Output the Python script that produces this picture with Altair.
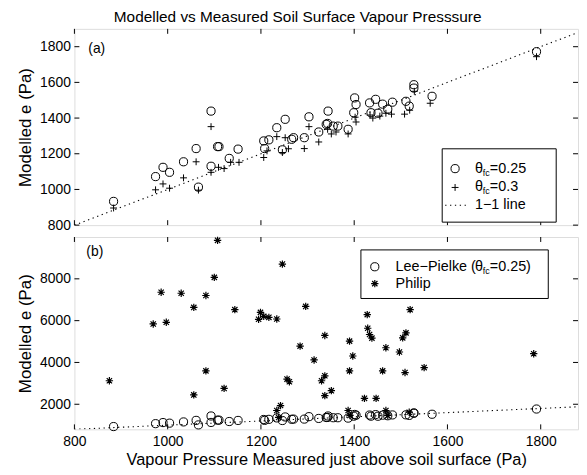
import altair as alt
import pandas as pd

# ---------------- data ----------------
# panel (a): theta_fc = 0.25  (also Lee-Pielke in panel (b))
x_c = [884, 974, 990, 1004, 1034, 1061, 1066, 1093, 1093, 1107, 1110, 1132, 1151,
       1206, 1208, 1217, 1234, 1252, 1246, 1266, 1270, 1293, 1303, 1324, 1343, 1344,
       1340, 1355, 1365, 1387, 1401, 1404, 1399, 1433, 1436, 1446, 1461, 1472, 1482,
       1451, 1511, 1518, 1528, 1528, 1567, 1791]
y_c = [933, 1072, 1124, 1096, 1155, 1229, 1013, 1439, 1130, 1240, 1240, 1174, 1226,
       1272, 1229, 1278, 1346, 1393, 1222, 1281, 1290, 1290, 1407, 1322, 1370, 1439,
       1365, 1355, 1355, 1337, 1513, 1476, 1430, 1485, 1430, 1505, 1478, 1450, 1489,
       1427, 1494, 1467, 1587, 1568, 1522, 1772]
# panel (a): theta_fc = 0.3
x_p = [884, 974, 990, 1004, 1034, 1061, 1066, 1093, 1093, 1109, 1121, 1135, 1153,
       1206, 1213, 1234, 1252, 1246, 1259, 1293, 1303, 1324, 1343, 1351, 1361, 1387,
       1402, 1404, 1434, 1440, 1455, 1468, 1480, 1508, 1519, 1529, 1563, 1791]
y_p = [896, 998, 1031, 1007, 1065, 1155, 996, 1352, 1096, 1124, 1117, 1152, 1152,
       1179, 1216, 1296, 1290, 1207, 1228, 1229, 1352, 1266, 1337, 1311, 1322, 1311,
       1405, 1378, 1417, 1400, 1411, 1427, 1422, 1422, 1444, 1550, 1483, 1744]
# panel (b): Philip
x_ph = [875, 969, 997, 986, 1029, 1056, 1056, 1082, 1082, 1100, 1107, 1121, 1144,
        1199, 1195, 1206, 1217, 1234, 1246, 1234, 1238, 1242, 1256, 1261, 1284, 1296,
        1314, 1330, 1337, 1337, 1337, 1351, 1390, 1397, 1390, 1387, 1391, 1428, 1433,
        1429, 1438, 1422, 1447, 1468, 1461, 1468, 1472, 1497, 1504, 1511, 1520, 1509,
        1550, 1518, 1785]
y_ph = [3124, 5841, 5921, 7358, 7311, 6633, 2446, 7202, 3598, 8070, 9843, 2758, 6524,
        6396, 6064, 6206, 6158, 6078, 8705, 1701, 1369, 1938, 3204, 3076, 4783, 6680,
        4119, 3124, 5291, 3361, 2412, 2649, 5020, 4309, 3598, 1701, 1464, 6287, 5338,
        5637, 5163, 2284, 2284, 4703, 3598, 1701, 1464, 4499, 5177, 5414, 6524, 3517,
        3754, 1620, 4418]
# 1-1 line
x_line = [800, 1880]
y_line = [800, 1880]

x_ticks = [800, 1000, 1200, 1400, 1600, 1800]
ya_ticks = [800, 1000, 1200, 1400, 1600, 1800]
yb_ticks = [2000, 4000, 6000, 8000]

# ---------------- styling ----------------
FONT = "Liberation Sans"
W, HA, HB = 508, 198, 194
DOT = [1.3, 3.6]
PLUS = "M-1,0L1,0M0,-1L0,1"
STAR = "M-1,0L1,0M0,-1L0,1M-0.72,-0.72L0.72,0.72M-0.72,0.72L0.72,-0.72"
CSIZE = 68

xs = alt.Scale(domain=[800, 1880], nice=False, zero=False)
yas = alt.Scale(domain=[800, 1900], nice=False, zero=False)
ybs = alt.Scale(domain=[800, 10000], nice=False, zero=False)

def yaxis(vals):
    return alt.Axis(values=vals, format="d", title="Modelled e (Pa)", ticks=False, domain=False,
                    grid=False, labelFontSize=14, labelFont=FONT, labelColor="black",
                    labelPadding=4, labelFlush=False, labelOverlap=False,
                    titleFont=FONT, titleFontSize=17,
                    titleFontWeight="normal", titleColor="black", titlePadding=5)

xaxis_b = alt.Axis(values=x_ticks, format="d",
                   title="Vapour Pressure Measured just above soil surface (Pa)",
                   ticks=False, domain=False, grid=False, labelFontSize=14, labelFont=FONT,
                   labelColor="black", labelPadding=5, labelFlush=False, labelOverlap=False,
                   titleFont=FONT, titleFontSize=16.5,
                   titleFontWeight="normal", titleColor="black", titlePadding=3)

one = pd.DataFrame({"k": [0]})


def panel(yscale, yax, yticks, H, xax):
    X = lambda: alt.X("x:Q", scale=xs, axis=xax)
    Y = lambda: alt.Y("y:Q", scale=yscale, axis=yax)
    line = alt.Chart(pd.DataFrame({"x": x_line, "y": y_line})).mark_line(
        color="black", strokeWidth=1.1, strokeDash=DOT, clip=True).encode(x=X(), y=Y())
    lt = alt.Chart(pd.DataFrame({"y": yticks})).mark_rule(color="black", strokeWidth=1).encode(
        y=Y(), x=alt.value(0), x2=alt.value(5))
    rt = alt.Chart(pd.DataFrame({"y": yticks})).mark_rule(color="black", strokeWidth=1).encode(
        y=Y(), x=alt.value(W - 5), x2=alt.value(W))
    tt = alt.Chart(pd.DataFrame({"x": x_ticks})).mark_rule(color="black", strokeWidth=1).encode(
        x=X(), y=alt.value(0), y2=alt.value(5))
    bt = alt.Chart(pd.DataFrame({"x": x_ticks})).mark_rule(color="black", strokeWidth=1).encode(
        x=X(), y=alt.value(H - 5), y2=alt.value(H))
    return X, Y, [line, lt, rt, tt, bt]


def txt(s, x, y, size=14.5, **kw):
    return alt.Chart(one).mark_text(text=s, font=FONT, fontSize=size, color="black",
                                    align="left", baseline="middle", **kw).encode(
        x=alt.value(x), y=alt.value(y))


def sym(shape, x, y, size, sw=1.0):
    return alt.Chart(one).mark_point(shape=shape, size=size, filled=False, color="black",
                                     strokeWidth=sw, opacity=1).encode(
        x=alt.value(x), y=alt.value(y))


# ---------------- panel (a) ----------------
Xa, Ya, base_a = panel(yas, yaxis(ya_ticks), ya_ticks, HA, None)
circ_a = alt.Chart(pd.DataFrame({"x": x_c, "y": y_c})).mark_point(
    shape="circle", size=CSIZE, filled=False, color="black", strokeWidth=1, opacity=1).encode(
    x=Xa(), y=Ya())
plus_a = alt.Chart(pd.DataFrame({"x": x_p, "y": y_p})).mark_point(
    shape=PLUS, size=48, filled=False, color="black", strokeWidth=1, opacity=1).encode(
    x=Xa(), y=Ya())
box_a = alt.Chart(one).mark_rect(fill="white", stroke="black", strokeWidth=1).encode(
    x=alt.value(371), x2=alt.value(486), y=alt.value(121), y2=alt.value(195))
leg_line = alt.Chart(one).mark_rule(color="black", strokeWidth=1.1, strokeDash=DOT).encode(
    x=alt.value(374), x2=alt.value(395), y=alt.value(178))
leg_a = [box_a,
         sym("circle", 384, 141, CSIZE), txt("θ", 404, 141), txt("fc", 412, 145, size=9), txt("=0.25", 419, 141),
         sym(PLUS, 384, 160, 48), txt("θ", 404, 160), txt("fc", 412, 164, size=9), txt("=0.3", 419, 160),
         leg_line, txt("1−1 line", 404, 178)]
top = alt.layer(*base_a, circ_a, plus_a, *leg_a, txt("(a)", 14, 20, size=14)).properties(
    width=W, height=HA)

# ---------------- panel (b) ----------------
Xb, Yb, base_b = panel(ybs, yaxis(yb_ticks), yb_ticks, HB, xaxis_b)
circ_b = alt.Chart(pd.DataFrame({"x": x_c, "y": y_c})).mark_point(
    shape="circle", size=CSIZE, filled=False, color="black", strokeWidth=1, opacity=1).encode(
    x=Xb(), y=Yb())
star_b = alt.Chart(pd.DataFrame({"x": x_ph, "y": y_ph})).mark_point(
    shape=STAR, size=55, filled=False, color="black", strokeWidth=1.2, opacity=1).encode(
    x=Xb(), y=Yb())
box_b = alt.Chart(one).mark_rect(fill="white", stroke="black", strokeWidth=1).encode(
    x=alt.value(289), x2=alt.value(478), y=alt.value(13), y2=alt.value(62))
leg_b = [box_b,
         sym("circle", 303, 30, CSIZE), txt("Lee−Pielke (", 324, 30), txt("θ", 404, 30),
         txt("fc", 412, 34, size=9), txt("=0.25)", 419, 30),
         sym(STAR, 303, 47, 55, 1.2), txt("Philip", 324, 47)]
bottom = alt.layer(*base_b, circ_b, star_b, *leg_b, txt("(b)", 12, 15, size=14)).properties(
    width=W, height=HB)

chart = alt.vconcat(top, bottom, spacing=0).properties(
    title=alt.TitleParams("Modelled vs Measured Soil Surface Vapour Presssure", font=FONT,
                          fontSize=15.5, fontWeight="normal", color="black", offset=2,
                          anchor="middle"),
    padding={"left": 8, "top": 0, "right": 0, "bottom": 2},
).configure_view(stroke="black", strokeWidth=1).configure(background="white")

chart.save("out.html", embed_options={"renderer": "svg", "actions": False})
